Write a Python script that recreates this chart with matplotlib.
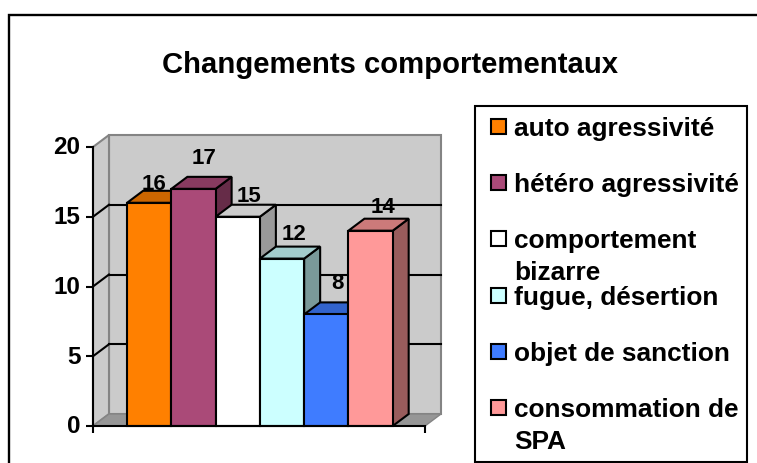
import matplotlib
matplotlib.use('Agg')
import matplotlib.pyplot as plt
from matplotlib.colors import to_rgb
from matplotlib.patches import Polygon, Rectangle
from matplotlib.transforms import ScaledTranslation

plt.rcParams['font.family'] = ['Liberation Sans', 'DejaVu Sans']
plt.rcParams['font.weight'] = 'bold'

title = 'Changements comportementaux'
labels = ['auto agressivité', 'hétéro agressivité', 'comportement\nbizarre',
          'fugue, désertion', 'objet de sanction', 'consommation de\nSPA']
values = [16, 17, 15, 12, 8, 14]
colors = ['#FF8000', '#AA4A78', '#FFFFFF', '#CCFFFF', '#3F7CFF', '#FF9999']
yticks = [0, 5, 10, 15, 20]

W, H = 757, 464
fig = plt.figure(figsize=(W / 100, H / 100), dpi=100)

# axes placed on the pixel box of the original front plane
ax = fig.add_axes([93 / W, 1 - 427 / H, 332 / W, 279 / H])
ax.set_xlim(0, 7.5)
ax.set_ylim(0, 20)
ax.set_facecolor('none')
for s in ['top', 'right']:
    ax.spines[s].set_visible(False)
for s in ['left', 'bottom']:
    ax.spines[s].set_linewidth(1.5)
    ax.spines[s].set_zorder(8)
ax.set_xticks([0, 7.5])
ax.set_xticklabels([])
ax.set_yticks(yticks)
ax.tick_params(axis='both', length=5, width=1.5, labelsize=17.5, pad=4)

# tick labels sit slightly above their ticks in the original
for lab in ax.get_yticklabels():
    lab.set_transform(lab.get_transform() + ScaledTranslation(0, 2.5 / 100, fig.dpi_scale_trans))

# 3d depth, in data units
dx = 16 / (332 / 7.5)
dy = 12 / (279 / 20)
wall = '#CBCBCB'
edge = '#848484'


def shade(c, f):
    return tuple(v * f for v in to_rgb(c))


def poly(pts, fc, ec='black', lw=1.5, z=2):
    ax.add_patch(Polygon(pts, closed=True, fc=fc, ec=ec, lw=lw, zorder=z,
                         clip_on=False, joinstyle='miter'))


# walls and floor
poly([(dx, dy), (7.5 + dx, dy), (7.5 + dx, 20 + dy), (dx, 20 + dy)], wall, edge, 1.5, 1)
poly([(0, 0), (dx, dy), (dx, 20 + dy), (0, 20)], wall, edge, 1.5, 1)
poly([(0, 0), (7.5, 0), (7.5 + dx, dy), (dx, dy)], '#969696', edge, 1, 1)

for t in yticks[1:-1]:
    ax.plot([dx, 7.5 + dx], [t + dy, t + dy], color='black', lw=1.5, zorder=1.5, clip_on=False)
    ax.plot([0, dx], [t, t + dy], color='black', lw=1.5, zorder=1.5, clip_on=False)

# bars, left to right so each one covers the side of the previous one
start = 0.77
for i, (v, c) in enumerate(zip(values, colors)):
    z = 3 + i * 0.1
    x0 = start + i
    poly([(x0 + 1, 0), (x0 + 1 + dx, dy), (x0 + 1 + dx, v + dy), (x0 + 1, v)], shade(c, 0.6), z=z)
    poly([(x0, v), (x0 + dx, v + dy), (x0 + 1 + dx, v + dy), (x0 + 1, v)], shade(c, 0.8), z=z)
    ax.bar(x0 + 0.5, v, width=1, color=c, edgecolor='black', linewidth=1.5, zorder=z, clip_on=False)

# value labels, pixel offsets from the bar top centre
offsets = [(5, 9), (11, 21), (11, 11), (12, 15), (11, 21), (12, 14)]
for i, v in enumerate(values):
    ax.annotate(str(v), xy=(start + i + 0.5, v), xytext=offsets[i], textcoords='offset pixels',
                ha='center', va='bottom', fontsize=16, zorder=7, annotation_clip=False)

fig.text(390 / W, 1 - 65 / H, title, ha='center', va='center', fontsize=21.1)

# outer frame, runs off the right and bottom of the picture
fig.add_artist(Rectangle((9 / W, -0.02), 1, 1.02 - 15.5 / H, transform=fig.transFigure,
                         fc='none', ec='black', lw=1.7))

# legend box
fig.add_artist(Rectangle((475 / W, 1 - 463 / H), 272 / W, 356 / H, transform=fig.transFigure,
                         fc='white', ec='black', lw=1.5, zorder=5))
rows = [127, 183, 239, 296, 352, 408]
for y, lab, c in zip(rows, labels, colors):
    fig.add_artist(Rectangle((491 / W, 1 - (y + 8) / H), 15 / W, 15 / H, transform=fig.transFigure,
                             fc=c, ec='black', lw=1.5, zorder=6))
    fig.text(514 / W, 1 - (y - 10) / H, lab, ha='left', va='top', fontsize=18.9,
             linespacing=1.42, zorder=6)

fig.savefig('out.png', dpi=100)
